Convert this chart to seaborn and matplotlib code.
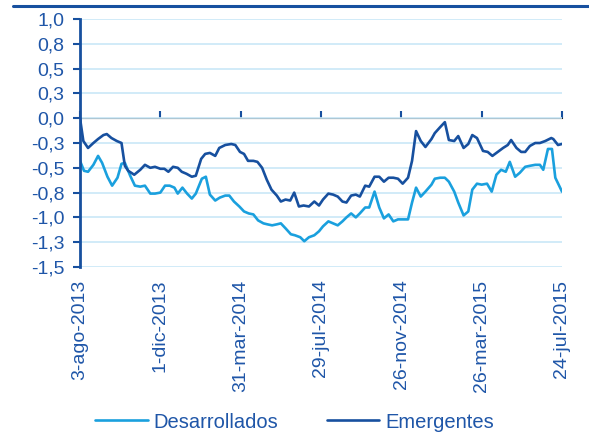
import matplotlib
matplotlib.use("Agg")
import matplotlib.pyplot as plt
import numpy as np
import pandas as pd
import seaborn as sns
from matplotlib.lines import Line2D

# días desde el 3-ago-2013 y valores
dias_desarrollados = [
    0, 6, 12, 20, 27, 33, 41, 48, 56, 62, 67, 75, 82, 90, 97, 105, 112, 120,
    127, 134, 141, 146, 153, 160, 167, 173, 182, 188, 194, 202, 209, 217, 223,
    230, 238, 245, 252, 259, 266, 274, 280, 287, 294, 300, 307, 315, 321, 329,
    335, 342, 350, 357, 363, 371, 378, 385, 392, 398, 405, 412, 418, 426, 432,
    440, 447, 454, 461, 468, 475, 482, 490, 496, 502, 509, 516, 525, 530, 538,
    545, 551, 559, 565, 573, 580, 586, 593, 600, 608, 615, 622, 629, 636, 642,
    650, 657, 665, 672, 680, 687, 692, 699, 705, 710, 720,
]
desarrollados = [
    -0.43, -0.53, -0.54, -0.47, -0.38, -0.45, -0.59, -0.68, -0.60, -0.46, -0.45,
    -0.58, -0.68, -0.69, -0.68, -0.76, -0.76, -0.75, -0.68, -0.68, -0.70, -0.76,
    -0.70, -0.76, -0.81, -0.76, -0.61, -0.59, -0.77, -0.83, -0.80, -0.78, -0.78,
    -0.84, -0.89, -0.94, -0.96, -0.97, -1.03, -1.06, -1.07, -1.08, -1.07, -1.06,
    -1.11, -1.17, -1.18, -1.20, -1.24, -1.20, -1.18, -1.14, -1.09, -1.04, -1.06,
    -1.08, -1.04, -1.00, -0.96, -1.00, -0.96, -0.90, -0.90, -0.74, -0.90, -1.01,
    -0.97, -1.04, -1.02, -1.02, -1.02, -0.85, -0.70, -0.79, -0.74, -0.67, -0.61,
    -0.60, -0.60, -0.64, -0.74, -0.85, -0.98, -0.94, -0.72, -0.66, -0.67, -0.66,
    -0.74, -0.57, -0.52, -0.54, -0.44, -0.59, -0.55, -0.49, -0.48, -0.47, -0.47,
    -0.52, -0.31, -0.31, -0.60, -0.74,
]

dias_emergentes = [
    0, 5, 12, 20, 27, 35, 40, 47, 55, 62, 67, 72, 81, 90, 97, 105, 112, 120,
    126, 132, 139, 146, 152, 159, 167, 173, 181, 187, 194, 202, 208, 217, 226,
    232, 239, 245, 251, 259, 265, 272, 279, 286, 294, 300, 307, 314, 320, 327,
    334, 342, 350, 357, 363, 371, 378, 385, 392, 398, 405, 412, 418, 426, 432,
    440, 447, 454, 461, 468, 475, 482, 490, 496, 502, 509, 516, 525, 530, 538,
    545, 551, 559, 565, 573, 580, 586, 593, 602, 609, 616, 624, 632, 639, 644,
    652, 659, 665, 672, 680, 687, 695, 704, 707, 714, 720,
]
emergentes = [
    0.00, -0.23, -0.30, -0.25, -0.21, -0.17, -0.16, -0.20, -0.23, -0.25, -0.48,
    -0.53, -0.57, -0.52, -0.47, -0.50, -0.49, -0.51, -0.51, -0.54, -0.49, -0.50,
    -0.54, -0.56, -0.59, -0.58, -0.41, -0.36, -0.35, -0.38, -0.30, -0.27, -0.26,
    -0.27, -0.34, -0.36, -0.43, -0.43, -0.44, -0.50, -0.62, -0.72, -0.78, -0.84,
    -0.82, -0.83, -0.75, -0.89, -0.88, -0.89, -0.84, -0.88, -0.82, -0.76, -0.77,
    -0.79, -0.84, -0.85, -0.78, -0.77, -0.79, -0.68, -0.69, -0.59, -0.59, -0.64,
    -0.60, -0.60, -0.61, -0.66, -0.60, -0.43, -0.13, -0.23, -0.29, -0.21, -0.15,
    -0.09, -0.04, -0.22, -0.23, -0.18, -0.30, -0.26, -0.17, -0.20, -0.33, -0.34,
    -0.38, -0.34, -0.30, -0.27, -0.22, -0.30, -0.34, -0.34, -0.28, -0.25, -0.25,
    -0.23, -0.20, -0.21, -0.27, -0.26,
]

ticks_x = ["3-ago-2013", "1-dic-2013", "31-mar-2014", "29-jul-2014",
           "26-nov-2014", "26-mar-2015", "24-jul-2015"]
fechas_x = ["2013-08-03", "2013-12-01", "2014-03-31", "2014-07-29",
            "2014-11-26", "2015-03-26", "2015-07-24"]
ticks_y = [1.0, 0.75, 0.5, 0.25, 0.0, -0.25, -0.5, -0.75, -1.0, -1.25, -1.5]
etiquetas_y = ["1,0", "0,8", "0,5", "0,3", "0,0", "-0,3", "-0,5", "-0,8",
               "-1,0", "-1,3", "-1,5"]

azul_claro = "#1aa0de"
azul_oscuro = "#17509f"
azul_texto = "#1f56a8"
gris_grid = "#c9e8f7"

df = pd.concat([
    pd.DataFrame({"dia": dias_desarrollados, "valor": desarrollados,
                  "serie": "Desarrollados"}),
    pd.DataFrame({"dia": dias_emergentes, "valor": emergentes,
                  "serie": "Emergentes"}),
])

sns.set_style("white")
plt.rcParams["font.family"] = ["Liberation Sans", "DejaVu Sans"]

fig = plt.figure(figsize=(5.89, 4.34), dpi=100)
ax = fig.add_axes([80 / 589, 1 - 267 / 434, 482 / 589, 248 / 434])

sns.lineplot(data=df, x="dia", y="valor", hue="serie", estimator=None,
             palette={"Desarrollados": azul_claro, "Emergentes": azul_oscuro},
             linewidth=1.9, legend=False, ax=ax)

inicio = pd.Timestamp(fechas_x[0])
pos_x = [(pd.Timestamp(f) - inicio).days for f in fechas_x]

ax.set_xlim(pos_x[0], pos_x[-1])
ax.set_ylim(-1.5, 1.0)
ax.set_xlabel("")
ax.set_ylabel("")

ax.set_yticks(ticks_y)
ax.set_yticklabels(etiquetas_y)
ax.yaxis.grid(True, color=gris_grid, linewidth=1.2)
ax.xaxis.grid(False)
ax.set_axisbelow(True)

ax.set_xticks(pos_x)
ax.set_xticklabels(ticks_x, rotation=90)
ax.tick_params(axis="x", length=0, pad=9, labelsize=14, labelcolor=azul_texto)
ax.tick_params(axis="y", direction="out", length=5, width=1.5,
               color=azul_oscuro, pad=6, labelsize=14, labelcolor=azul_texto,
               left=True)

for lado in ["top", "right", "bottom"]:
    ax.spines[lado].set_visible(False)
ax.spines["left"].set_color(azul_oscuro)
ax.spines["left"].set_linewidth(2)

# eje en el cero con marcas hacia abajo
eje_cero = ax.secondary_xaxis(0.6)
eje_cero.set_xticks(pos_x)
eje_cero.set_xticklabels([])
eje_cero.tick_params(direction="out", length=5, width=1.5, color=azul_oscuro)
eje_cero.spines["bottom"].set_color(azul_oscuro)
eje_cero.spines["bottom"].set_linewidth(2)

# línea superior del cuadro
fig.add_artist(Line2D([13 / 589, 1.0], [1 - 6 / 434, 1 - 6 / 434],
                      color=azul_oscuro, linewidth=2.2,
                      transform=fig.transFigure))

handles = [Line2D([], [], color=azul_claro, linewidth=1.9),
           Line2D([], [], color=azul_oscuro, linewidth=1.9)]
leg = fig.legend(handles, ["Desarrollados", "Emergentes"], loc="center",
                 bbox_to_anchor=(0.5, 1 - 422 / 434), ncol=2, frameon=False,
                 fontsize=14.5, handlelength=2.6, columnspacing=2.4,
                 handletextpad=0.3, borderpad=0.1)
for t in leg.get_texts():
    t.set_color(azul_texto)

fig.savefig("out.png", dpi=100)
